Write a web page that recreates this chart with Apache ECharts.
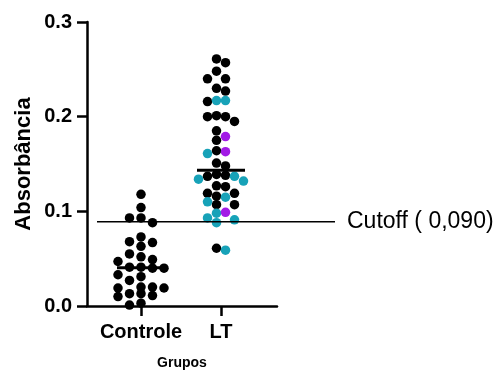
<!DOCTYPE html>
<html><head><meta charset="utf-8">
<script src="https://cdn.jsdelivr.net/npm/echarts@6/dist/echarts.min.js"></script>
<style>html,body{margin:0;padding:0;background:#fff}#c{width:500px;height:375px}</style>
</head><body><div id="c"></div><script>
// ---- data ----
const categories = ['Controle', 'LT'];
const controle = [0.118, 0.104, 0.093, 0.093, 0.088, 0.067, 0.068, 0.073, 0.063, 0.052,
  0.055, 0.047, 0.049, 0.041, 0.040, 0.041, 0.040, 0.031, 0.033, 0.027,
  0.020, 0.020, 0.019, 0.019, 0.013, 0.010, 0.011, 0.013, 0.003, 0.001];
const ltBlack = [0.261, 0.257, 0.248, 0.240, 0.240, 0.230, 0.227, 0.216, 0.200, 0.195,
  0.201, 0.200, 0.185, 0.175, 0.164, 0.151, 0.148, 0.137, 0.138, 0.139,
  0.126, 0.127, 0.116, 0.119, 0.119, 0.107, 0.107, 0.061];
const ltCyan = [0.217, 0.217, 0.161, 0.137, 0.132, 0.134, 0.115, 0.110, 0.098, 0.091, 0.088, 0.093, 0.059];
const ltPurple = [0.179, 0.163, 0.099];
const yTicks = [0.0, 0.1, 0.2, 0.3];
const cutoff = 0.090;

// ---- layout ----
const FONT = '"Liberation Sans", Arial, sans-serif';
const G = {left: 87, top: 22, width: 190, height: 285.5};
const X_MIN = 0.325, X_MAX = 2.7;
const Y_MIN = yTicks[0], Y_MAX = yTicks[yTicks.length - 1];
const pxX = G.width / (X_MAX - X_MIN);
const pxY = G.height / (Y_MAX - Y_MIN);
const DOT = 9.5;
const VGAP = 8.5;

// column-based dot plot layout: each point goes to the most central column
// that has no point within VGAP pixels vertically
function columnSwarm(vals, cols) {
  const ys = vals.map(v => v * pxY);
  const order = ys.map((_, i) => i).sort((a, b) => ys[b] - ys[a]);
  const used = cols.map(() => []);
  const out = new Array(ys.length);
  for (const i of order) {
    const y = ys[i];
    let best = -1, bestD = -1;
    for (let k = 0; k < cols.length; k++) {
      const dmin = used[k].reduce((m, py) => Math.min(m, Math.abs(py - y)), Infinity);
      if (dmin >= VGAP) { best = k; break; }
      if (dmin > bestD) { bestD = dmin; best = k; }
    }
    used[best].push(y);
    out[i] = cols[best];
  }
  return out;
}
function median(a) {
  const s = a.slice().sort((x, y) => x - y), n = s.length;
  return n % 2 ? s[(n - 1) / 2] : (s[n / 2 - 1] + s[n / 2]) / 2;
}

const S1 = 11.5, S2 = 9;
const colsOdd = [0, -S1, S1, -2 * S1, 2 * S1];
const colsEven = [-S2 / 2, S2 / 2, -1.5 * S2, 1.5 * S2, -2.5 * S2, 2.5 * S2];

const cOff = columnSwarm(controle, colsOdd);
const controleData = controle.map((v, i) => [1 + cOff[i] / pxX, v]);

const ltAll = [].concat(ltBlack.map(v => ({v, g: 0})), ltCyan.map(v => ({v, g: 1})), ltPurple.map(v => ({v, g: 2})));
const lOff = columnSwarm(ltAll.map(d => d.v), colsEven);
const ltData = [[], [], []];
ltAll.forEach((d, i) => ltData[d.g].push([2 + lOff[i] / pxX, d.v]));
const ltColors = ['#000000', '#17a2b8', '#a21ae6'];

const medC = median(controle);
const medL = median(ltAll.map(d => d.v));
const HALF = 0.3;

const chart = echarts.init(document.getElementById('c'));
chart.setOption({
  animation: false,
  backgroundColor: '#fff',
  grid: [
    {left: G.left, top: G.top, width: G.width, height: G.height},
    {left: 97, top: G.top, width: 238, height: G.height}
  ],
  xAxis: [{
    type: 'value', min: X_MIN, max: X_MAX, gridIndex: 0,
    name: 'Grupos', nameLocation: 'middle', nameGap: 50,
    nameTextStyle: {fontFamily: FONT, fontWeight: 'bold', fontSize: 14, color: '#000'},
    axisLine: {show: true, onZero: false, lineStyle: {color: '#000', width: 2.5}},
    axisTick: {show: true, customValues: [1, 2], length: 10, lineStyle: {color: '#000', width: 2.5}},
    axisLabel: {show: true, customValues: [1, 2], margin: 16, formatter: v => categories[Math.round(v) - 1] || '',
      fontFamily: FONT, fontWeight: 'bold', fontSize: 20, color: '#000'},
    splitLine: {show: false}
  }, {
    type: 'value', min: 0, max: 1, gridIndex: 1, show: false
  }],
  yAxis: [{
    type: 'value', min: Y_MIN, max: Y_MAX, interval: 0.1, gridIndex: 0,
    name: 'Absorbância', nameLocation: 'middle', nameGap: 52,
    nameTextStyle: {fontFamily: FONT, fontWeight: 'bold', fontSize: 22, color: '#000'},
    axisLine: {show: true, onZero: false, lineStyle: {color: '#000', width: 2.5}},
    axisTick: {show: true, length: 10, lineStyle: {color: '#000', width: 2.5}},
    axisLabel: {margin: 15, formatter: v => v.toFixed(1), fontFamily: FONT, fontWeight: 'bold', fontSize: 20, color: '#000'},
    splitLine: {show: false}
  }, {
    type: 'value', min: Y_MIN, max: Y_MAX, gridIndex: 1, show: false
  }],
  series: [
    {type: 'scatter', xAxisIndex: 0, yAxisIndex: 0, data: controleData, symbolSize: DOT,
      itemStyle: {color: '#000', opacity: 1}, z: 2},
    ...ltData.map((d, k) => ({type: 'scatter', xAxisIndex: 0, yAxisIndex: 0, data: d, symbolSize: DOT,
      itemStyle: {color: ltColors[k], opacity: 1}, z: 2})),
    {type: 'line', xAxisIndex: 0, yAxisIndex: 0, data: [[1 - HALF, medC], [1 + HALF, medC]], symbol: 'none',
      lineStyle: {color: '#000', width: 3}, z: 5, clip: false},
    {type: 'line', xAxisIndex: 0, yAxisIndex: 0, data: [[2 - HALF, medL], [2 + HALF, medL]], symbol: 'none',
      lineStyle: {color: '#000', width: 3}, z: 5, clip: false},
    {type: 'line', xAxisIndex: 1, yAxisIndex: 1, data: [[0, cutoff], [1, cutoff]], symbol: 'none',
      lineStyle: {color: '#000', width: 1.5}, z: 5, clip: false,
      endLabel: {show: true, distance: 12, formatter: 'Cutoff ( ' + cutoff.toFixed(3).replace('.', ',') + ')',
        fontFamily: FONT, fontSize: 23, color: '#000'}}
  ]
});
</script></body></html>
